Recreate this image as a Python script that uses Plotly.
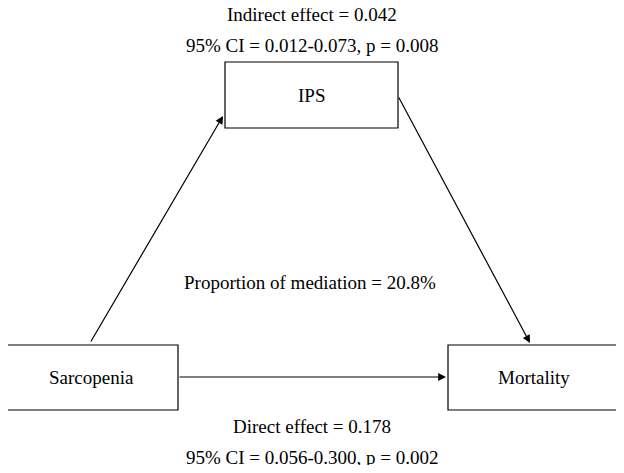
import plotly.graph_objects as go

node_names = ["IPS", "Sarcopenia", "Mortality"]
node_x0 = [225, 5, 448]
node_x1 = [398, 178, 620]
node_y0 = [62, 345, 345]
node_y1 = [128, 410, 410]
label_texts = ["Indirect effect = 0.042", "95% CI = 0.012-0.073, p = 0.008",
               "Proportion of mediation = 20.8%",
               "Direct effect = 0.178", "95% CI = 0.056-0.300, p = 0.002"]
label_x = [312, 312, 310, 312, 312]
label_y = [14, 45, 282, 426, 457]
arrow_from = [(90, 343), (398, 96), (178, 377)]
arrow_to = [(223, 116), (530, 343), (446, 377)]

F = dict(family="Liberation Serif, Times New Roman, serif", size=19, color="black")
fig = go.Figure()
fig.add_trace(go.Scatter(x=[8, 616], y=[8, 465], mode="markers", marker=dict(opacity=0), hoverinfo="skip", showlegend=False))
for n, a, b, c, d in zip(node_names, node_x0, node_x1, node_y0, node_y1):
    fig.add_shape(type="rect", x0=a, x1=b, y0=c, y1=d, line=dict(color="black", width=1.2), fillcolor="white")
    fig.add_annotation(x=(a + b) / 2, y=(c + d) / 2, text=n, showarrow=False, font=F)
for t, x, y in zip(label_texts, label_x, label_y):
    fig.add_annotation(x=x, y=y, text=t, showarrow=False, font=F)
for (fx, fy), (tx, ty) in zip(arrow_from, arrow_to):
    fig.add_annotation(x=tx, y=ty, ax=fx, ay=fy, xref="x", yref="y", axref="x", ayref="y",
                       text="", showarrow=True, arrowhead=2, arrowsize=1.3, arrowwidth=1.2, arrowcolor="black", standoff=0)
fig.update_xaxes(range=[8, 616], visible=False)
fig.update_yaxes(range=[465, 8], visible=False)
fig.update_layout(width=608, height=457, margin=dict(l=0, r=0, t=0, b=0),
                  plot_bgcolor="white", paper_bgcolor="white")
fig.write_html("out.html", config={"displayModeBar": False})
